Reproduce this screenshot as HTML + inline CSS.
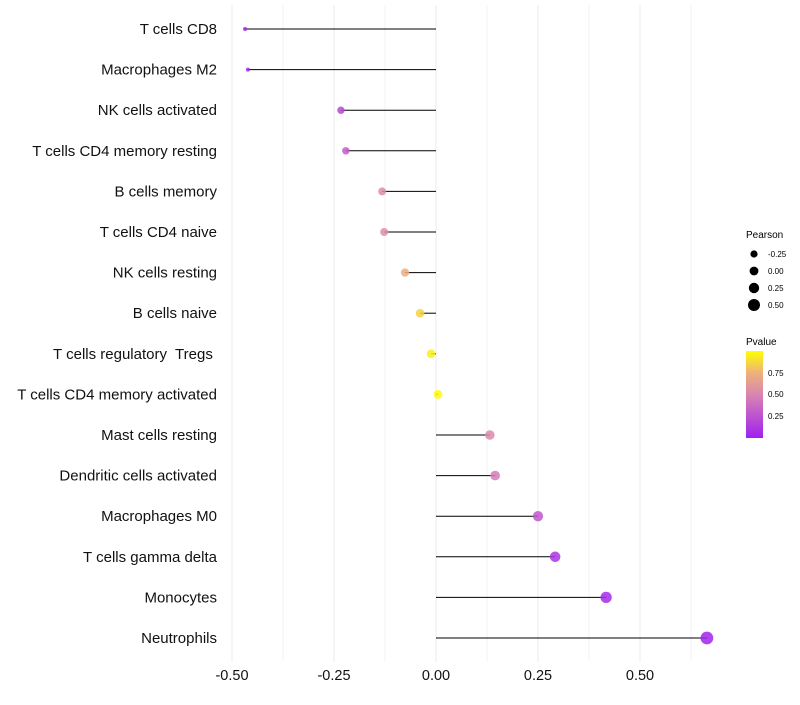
<!DOCTYPE html>
<html><head><meta charset="utf-8"><style>
body{margin:0;background:#fff;font-family:"Liberation Sans",sans-serif}
svg text{font-family:"Liberation Sans",sans-serif;white-space:pre}
</style></head><body>
<svg id="chart" width="800" height="700">
<defs><linearGradient id="pg" x1="0" y1="1" x2="0" y2="0">
<stop offset="0" stop-color="#a020f0"/><stop offset="0.5" stop-color="#d985b0"/><stop offset="0.75" stop-color="#eeb27a"/><stop offset="1" stop-color="#ffff00"/></linearGradient></defs>
<g id="grid"></g><g id="marks"></g><g id="labels"></g>
<g>
<text x="746" y="238" font-size="10">Pearson</text>
<circle cx="754" cy="254" r="3.6" fill="#000"/><text x="768" y="257" font-size="8">-0.25</text>
<circle cx="754" cy="271" r="4.4" fill="#000"/><text x="768" y="274" font-size="8">0.00</text>
<circle cx="754" cy="288" r="5.2" fill="#000"/><text x="768" y="291" font-size="8">0.25</text>
<circle cx="754" cy="305" r="6" fill="#000"/><text x="768" y="308" font-size="8">0.50</text>
</g>
<g>
<text x="746" y="345" font-size="10">Pvalue</text>
<rect x="746" y="351" width="17" height="87" fill="url(#pg)"/>
<text x="768" y="376" font-size="8">0.75</text>
<text x="768" y="397" font-size="8">0.50</text>
<text x="768" y="419" font-size="8">0.25</text>
</g>
</svg>
<script>
const categories=["T cells CD8","Macrophages M2","NK cells activated","T cells CD4 memory resting","B cells memory","T cells CD4 naive","NK cells resting","B cells naive","T cells regulatory  Tregs ","T cells CD4 memory activated","Mast cells resting","Dendritic cells activated","Macrophages M0","T cells gamma delta","Monocytes","Neutrophils"];
const pearson=[-0.468,-0.461,-0.233,-0.221,-0.132,-0.127,-0.076,-0.039,-0.012,0.005,0.132,0.145,0.25,0.292,0.417,0.664];
const pvalues=[0.01,0.02,0.2,0.3,0.55,0.55,0.72,0.86,0.95,0.99,0.52,0.46,0.27,0.1,0.05,0.02];
const xTicks=[-0.5,-0.25,0,0.25,0.5];
const xTickLabels=["-0.50","-0.25","0.00","0.25","0.50"];
const NS="http://www.w3.org/2000/svg";
const xs=v=>436+v*408, ys=i=>29+i*40.6;
const rs=v=>v<-0.3?2:4.4+3*v;
function lerp(a,b,t){return a.map((x,i)=>Math.round(x+(b[i]-x)*t));}
function col(p){const st=[[0,[160,32,240]],[0.5,[217,133,176]],[0.75,[238,178,122]],[1,[255,255,0]]];
for(let i=1;i<st.length;i++){if(p<=st[i][0]){const t=(p-st[i-1][0])/(st[i][0]-st[i-1][0]);const c=lerp(st[i-1][1],st[i][1],t);return `rgb(${c})`;}}return "rgb(255,255,0)";}
function mk(tag,at,parent){const e=document.createElementNS(NS,tag);for(const k in at)e.setAttribute(k,at[k]);document.getElementById(parent).appendChild(e);return e;}
for(let v=-0.5;v<=0.6251;v+=0.125){const g=mk("line",{x1:xs(v),x2:xs(v),y1:5,y2:662,stroke:"#ebebeb","stroke-width":Math.abs(v*4-Math.round(v*4))<1e-6?1:0.6},"grid");

}
xTicks.forEach((v,i)=>{const t=mk("text",{x:xs(v),y:680,"font-size":14.5,"text-anchor":"middle",fill:"#111"},"labels");t.textContent=xTickLabels[i];

});
categories.forEach((c,i)=>{const y=ys(i);
const t=mk("text",{x:217,y:y+5,"font-size":15,"text-anchor":"end",fill:"#111"},"labels");t.textContent=c;


const l=mk("line",{x1:xs(0),x2:xs(pearson[i]),y1:y,y2:y,stroke:"#000","stroke-width":1},"marks");


const p=mk("circle",{cx:xs(pearson[i]),cy:y,r:rs(pearson[i]),fill:col(pvalues[i]),"fill-opacity":0.85},"marks");

});
</script>
</body></html>
